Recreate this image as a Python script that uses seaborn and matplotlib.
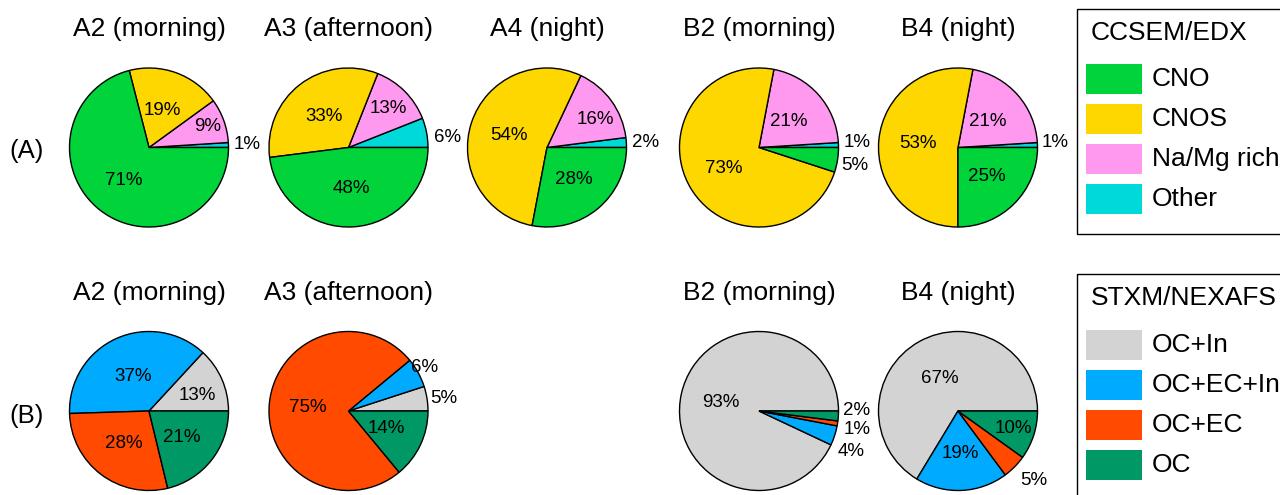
import matplotlib
matplotlib.use("Agg")
import numpy as np
import matplotlib.pyplot as plt
from matplotlib.patches import Rectangle
import seaborn as sns

sns.set_theme(style="white")
plt.rcParams['font.family'] = ['Liberation Sans', 'DejaVu Sans']
plt.rcParams['text.color'] = 'black'

# ---------------- data ----------------
# wedge order: counter-clockwise starting at 3 o'clock
ccsem_categories = ["Other", "Na/Mg rich", "CNOS", "CNO"]
ccsem_legend_order = ["CNO", "CNOS", "Na/Mg rich", "Other"]
ccsem_titles = ["A2 (morning)", "A3 (afternoon)", "A4 (night)", "B2 (morning)", "B4 (night)"]
ccsem_A2 = [1, 9, 19, 71]
ccsem_A3 = [6, 13, 33, 48]
ccsem_A4 = [2, 16, 54, 28]
ccsem_B2 = [1, 21, 73, 5]
ccsem_B4 = [1, 21, 53, 25]

stxm_categories = ["OC+In", "OC+EC+In", "OC+EC", "OC"]
stxm_legend_order = ["OC+In", "OC+EC+In", "OC+EC", "OC"]
stxm_titles = ["A2 (morning)", "A3 (afternoon)", "B2 (morning)", "B4 (night)"]
stxm_A2 = [13, 37, 28, 21]
stxm_A3 = [5, 6, 75, 14]
stxm_B2 = [93, 4, 1, 2]
stxm_B4 = [67, 19, 5, 10]

# ---------------- styles / layout ----------------
ccsem_colors = {"CNO": "#00D43A", "CNOS": "#FFD700", "Na/Mg rich": "#FF99F0", "Other": "#00D9D9"}
stxm_colors = {"OC+In": "#D3D3D3", "OC+EC+In": "#00AAFF", "OC+EC": "#FF4A00", "OC": "#009966"}

W, H = 1280, 495
fig = plt.figure(figsize=(W / 100, H / 100), dpi=100)
fig.patch.set_facecolor("white")

R = 79.5
top_cy, bot_cy = 147.5, 411
top_cx = [149, 348.5, 547, 759, 958]
bot_cx = [149, 348.5, 759, 958]

# label layout per wedge: (distance in radii, angle shift deg, outside?)
top_lbl = [
    [(1.06, 0, True), (0.78, 0, False), (0.50, 0, False), (0.52, 0, False)],
    [(1.08, -4, True), (0.70, 0, False), (0.50, 0, False), (0.52, 0, False)],
    [(1.07, 0, True), (0.70, -6, False), (0.50, 0, False), (0.52, 0, False)],
    [(1.06, 1.5, True), (0.50, 0, False), (0.51, 0, False), (1.06, -3.6, True)],
    [(1.05, 1.5, True), (0.50, 0, False), (0.51, 0, False), (0.52, 0, False)],
]
bot_lbl = [
    [(0.64, -6, False), (0.48, 0, False), (0.52, 0, False), (0.53, 0, False)],
    [(1.04, 0, True), (0.95, 6, True), (0.51, 0, False), (0.52, 0, False)],
    [(0.49, 0, False), (1.11, -9, True), (1.09, -3, True), (1.06, 3.6, True)],
    [(0.47, 0, False), (0.53, 0, False), (1.17, -3.5, True), (0.73, 0, False)],
]

PCT_FS = 13.5
BIG_FS = 19


def draw_pie(cx, cy, values, cats, cmap, lbl):
    ax = fig.add_axes([(cx - R) / W, 1 - (cy + R) / H, 2 * R / W, 2 * R / H])
    wedges, _ = ax.pie(values, colors=[cmap[c] for c in cats], startangle=0,
                       counterclock=True, radius=1,
                       wedgeprops=dict(edgecolor="black", linewidth=1.0))
    for w in wedges:
        w.set_clip_on(False)
    ax.set_xlim(-1, 1)
    ax.set_ylim(-1, 1)
    ax.set_aspect("auto")
    ax.axis("off")
    for w, v, (d, dth, out) in zip(wedges, values, lbl):
        th = np.deg2rad((w.theta1 + w.theta2) / 2 + dth)
        x, y = d * np.cos(th), d * np.sin(th)
        ax.text(x, y, f"{v}%", fontsize=PCT_FS, ha="left" if out else "center",
                va="center", color="black")
    return ax


top_data = [ccsem_A2, ccsem_A3, ccsem_A4, ccsem_B2, ccsem_B4]
bot_data = [stxm_A2, stxm_A3, stxm_B2, stxm_B4]

for cx, vals, lb in zip(top_cx, top_data, top_lbl):
    draw_pie(cx, top_cy, vals, ccsem_categories, ccsem_colors, lb)
for cx, vals, lb in zip(bot_cx, bot_data, bot_lbl):
    draw_pie(cx, bot_cy, vals, stxm_categories, stxm_colors, lb)

# overlay in pixel coordinates for titles and legends
ov = fig.add_axes([0, 0, 1, 1], zorder=5)
ov.set_xlim(0, W)
ov.set_ylim(H, 0)
ov.axis("off")
ov.patch.set_alpha(0)

for cx, t in zip(top_cx, ccsem_titles):
    ov.text(cx, 29, t, fontsize=BIG_FS, ha="center", va="center")
for cx, t in zip(bot_cx, stxm_titles):
    ov.text(cx, 293, t, fontsize=BIG_FS, ha="center", va="center")

ov.text(27, 151, "(A)", fontsize=18.5, ha="center", va="center")
ov.text(27, 416, "(B)", fontsize=18.5, ha="center", va="center")


def draw_legend(top, bottom, title, title_y, order, cmap, first_patch_y):
    ov.add_patch(Rectangle((1077, top), 230, bottom - top, fill=False,
                           edgecolor="black", linewidth=1.0))
    ov.text(1091, title_y, title, fontsize=BIG_FS, ha="left", va="center")
    for i, c in enumerate(order):
        py = first_patch_y + 40 * i
        ov.add_patch(Rectangle((1086, py), 56, 30, facecolor=cmap[c], edgecolor="none"))
        ov.text(1152, py + 15, c, fontsize=BIG_FS, ha="left", va="center")


draw_legend(9, 234, "CCSEM/EDX", 33, ccsem_legend_order, ccsem_colors, 64)
draw_legend(274, 520, "STXM/NEXAFS", 298, stxm_legend_order, stxm_colors, 330)

fig.savefig("out.png", dpi=100, facecolor="white")
